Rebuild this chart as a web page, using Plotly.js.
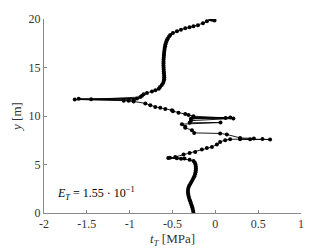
<!DOCTYPE html>
<html>
<head>
<meta charset="utf-8">
<script src="https://cdn.plot.ly/plotly-3.0.1.min.js"></script>
<style>html,body{margin:0;padding:0;background:#fff;}#chart{width:332px;height:249px;}</style>
</head>
<body>
<div id="chart"></div>
<script>
// Lower smooth profile (dense points)
const yLower = [0.0,0.2,0.4,0.6,0.8,1.0,1.2,1.4,1.6,1.8,2.0,2.2,2.4,2.6,2.8,3.0,3.2,3.4,3.6,3.8,4.0,4.2,4.4,4.6,4.8,5.0,5.2,5.35];
const tLower = [-0.255,-0.259,-0.264,-0.270,-0.277,-0.285,-0.293,-0.301,-0.308,-0.314,-0.318,-0.320,-0.319,-0.314,-0.305,-0.293,-0.280,-0.267,-0.255,-0.245,-0.237,-0.231,-0.228,-0.227,-0.228,-0.232,-0.240,-0.255];
// Oscillating middle zone
const yMiddle = [5.48,5.58,5.68,5.62,5.70,5.64,5.78,6.03,6.18,6.30,6.55,6.71,6.81,7.06,7.33,7.51,7.61,7.58,7.60,7.62,7.61,7.68,7.74,8.10,8.20,8.26,8.54,8.78,8.88,9.16,9.33,9.30,9.52,9.75,9.72,9.85,9.85,9.80,9.98,10.10,10.20,10.33,10.50,10.60,10.71,10.84,10.94,11.12,11.30,11.50,11.56,11.58,11.71,11.64,11.77,11.80,11.72,11.95,12.10,12.25,12.38,12.52,12.65];
const tMiddle = [-0.30,-0.40,-0.55,-0.36,-0.53,-0.45,-0.468,-0.371,-0.30,-0.235,-0.157,-0.099,-0.040,0.018,0.056,0.115,0.173,0.639,0.289,0.55,0.406,0.45,0.289,0.134,0.056,-0.247,-0.273,-0.351,-0.351,-0.39,0.06,-0.30,-0.285,0.211,-0.285,0.175,-0.26,0.12,-0.255,-0.313,-0.351,-0.430,-0.495,-0.506,-0.584,-0.643,-0.701,-0.759,-0.817,-0.954,-1.012,-1.07,-1.641,-0.95,-1.595,-0.914,-1.45,-0.876,-0.856,-0.837,-0.798,-0.74,-0.70];
// Upper smooth profile (dense points)
const yUpper = [12.8,13.0,13.2,13.4,13.6,13.8,14.0,14.2,14.4,14.6,14.8,15.0,15.2,15.4,15.6,15.8,16.0,16.2,16.4,16.6,16.8,17.0,17.2,17.4,17.6,17.8,18.0,18.2,18.35];
const tUpper = [-0.66,-0.645,-0.625,-0.610,-0.602,-0.598,-0.597,-0.598,-0.600,-0.602,-0.603,-0.604,-0.605,-0.605,-0.605,-0.604,-0.603,-0.601,-0.599,-0.597,-0.594,-0.591,-0.587,-0.582,-0.575,-0.566,-0.555,-0.540,-0.526];
// Top sparse part
const yTop = [18.55,18.73,18.90,19.04,19.14,19.25,19.35,19.56,19.76,19.93,20.0,19.85];
const tTop = [-0.495,-0.448,-0.401,-0.351,-0.301,-0.255,-0.203,-0.145,-0.099,-0.040,-0.06,-0.01];

const xTickVals = [-2,-1.5,-1,-0.5,0,0.5,1];
const xTickText = ['-2','-1.5','-1','-0.5','0','0.5','1'];
const yTickVals = [0,5,10,15,20];
const yTickText = ['0','5','10','15','20'];

const xs = tLower.concat(tMiddle, tUpper, tTop);
const ys = yLower.concat(yMiddle, yUpper, yTop);

const serif = 'Liberation Serif';

const trace = {
  x: xs, y: ys, type: 'scatter', mode: 'lines+markers',
  line: {color: '#000', width: 0.9},
  marker: {color: '#000', size: 4},
  cliponaxis: true, hoverinfo: 'skip'
};

const layout = {
  width: 332, height: 249,
  margin: {l: 44, r: 31, t: 19, b: 36, pad: 0},
  paper_bgcolor: '#fff', plot_bgcolor: '#fff',
  showlegend: false,
  font: {family: serif, size: 12, color: '#333'},
  xaxis: {
    range: [-2, 1], tickmode: 'array', tickvals: xTickVals, ticktext: xTickText,
    showgrid: false, zeroline: false, showline: true, linecolor: '#8a8a8a', linewidth: 1,
    ticks: 'inside', ticklen: 3, tickcolor: '#8a8a8a', mirror: false,
    tickfont: {family: serif, size: 12, color: '#333'},
    title: {text: '<i>t</i><sub><i>T</i></sub> [MPa]', font: {family: serif, size: 13, color: '#333'}, standoff: 2}
  },
  yaxis: {
    range: [0, 20], tickmode: 'array', tickvals: yTickVals, ticktext: yTickText,
    showgrid: false, zeroline: false, showline: true, linecolor: '#8a8a8a', linewidth: 1,
    ticks: 'inside', ticklen: 3, tickcolor: '#8a8a8a', mirror: false,
    tickfont: {family: serif, size: 12, color: '#333'},
    title: {text: '<i>y</i> [m]', font: {family: serif, size: 13, color: '#333'}, standoff: 4}
  },
  annotations: [{
    x: -1.87, y: 2.0, xref: 'x', yref: 'y', xanchor: 'left', yanchor: 'middle',
    text: '<i>E</i><sub><i>T</i></sub> = 1.55 · 10<sup>−1</sup>', showarrow: false,
    font: {family: serif, size: 12, color: '#000'}
  }]
};

Plotly.newPlot('chart', [trace], layout, {staticPlot: true, displayModeBar: false});
</script>
</body>
</html>
